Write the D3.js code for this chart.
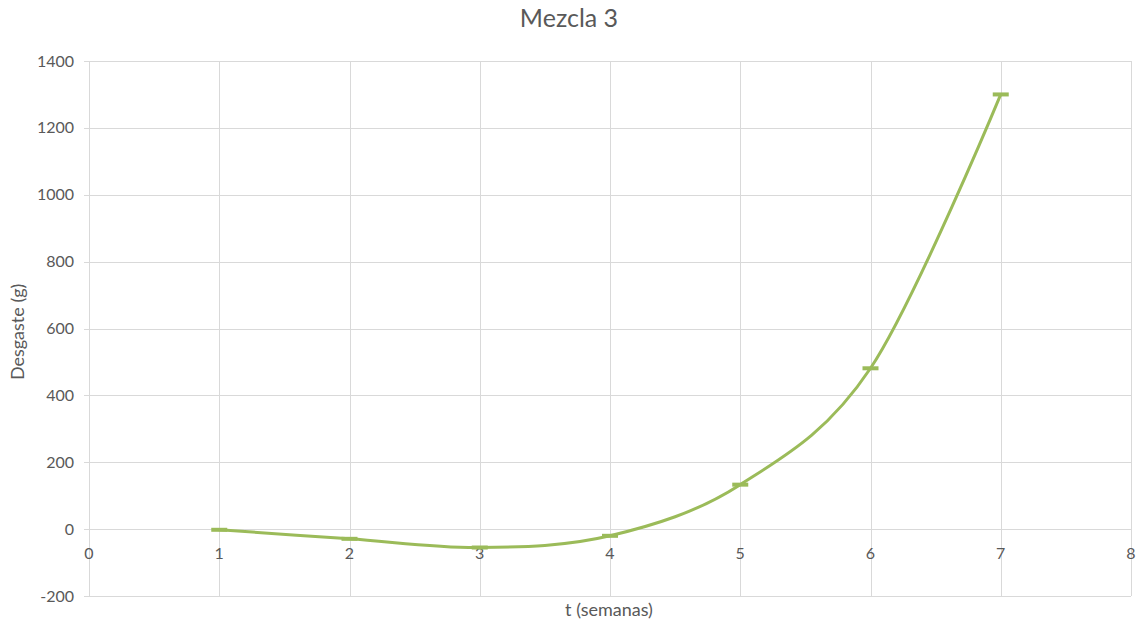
<!DOCTYPE html>
<html>
<head>
<meta charset="utf-8">
<script src="https://cdn.jsdelivr.net/npm/d3@7"></script>
<style>
  html, body { margin: 0; padding: 0; background: #fff; }
  svg { display: block; font-family: Lato, "Open Sans", sans-serif; }
</style>
</head>
<body>
<svg id="chart" width="1145" height="630"></svg>
<script>
// Weekly wear measurements for mix 3
const weeks = [1, 2, 3, 4, 5, 6, 7];
const wear = [-2, -29, -55, -20, 133, 481, 1300];
const xTicks = [0, 1, 2, 3, 4, 5, 6, 7, 8];
const yTicks = [-200, 0, 200, 400, 600, 800, 1000, 1200, 1400];
const titleText = "Mezcla 3";
const xTitle = "t (semanas)";
const yTitle = "Desgaste (g)";

const svg = d3.select("#chart");
const plot = { left: 89, right: 1131, top: 61, bottom: 596 };

const x = d3.scaleLinear().domain([0, 8]).range([plot.left, plot.right]);
const y = d3.scaleLinear().domain([-200, 1400]).range([plot.bottom, plot.top]);

const gridColor = "#d9d9d9";
const textColor = "#595959";
const seriesColor = "#9bbb59";

// Horizontal gridlines with short outward ticks on the left
svg.append("g")
  .selectAll("line")
  .data(yTicks)
  .join("line")
  .attr("x1", plot.left - 5)
  .attr("x2", plot.right)
  .attr("y1", d => Math.round(y(d)) + 0.5)
  .attr("y2", d => Math.round(y(d)) + 0.5)
  .attr("stroke", gridColor)
  .attr("stroke-width", 1);

// Vertical gridlines
svg.append("g")
  .selectAll("line")
  .data(xTicks)
  .join("line")
  .attr("x1", d => Math.round(x(d)) + 0.5)
  .attr("x2", d => Math.round(x(d)) + 0.5)
  .attr("y1", plot.top)
  .attr("y2", plot.bottom)
  .attr("stroke", gridColor)
  .attr("stroke-width", 1);

// Y tick labels
svg.append("g")
  .selectAll("text")
  .data(yTicks)
  .join("text")
  .attr("x", plot.left - 15)
  .attr("y", d => y(d))
  .attr("dy", "0.35em")
  .attr("text-anchor", "end")
  .attr("fill", textColor)
  .attr("font-size", 16)
  .text(d => d);

// X tick labels sit just below the zero line
svg.append("g")
  .selectAll("text")
  .data(xTicks)
  .join("text")
  .attr("x", d => x(d))
  .attr("y", y(0) + 30)
  .attr("text-anchor", "middle")
  .attr("fill", textColor)
  .attr("font-size", 16)
  .text(d => d);

// Smoothed series line
const pts = weeks.map((w, i) => [w, wear[i]]);
const line = d3.line()
  .x(d => x(d[0]))
  .y(d => y(d[1]))
  .curve(d3.curveCatmullRom.alpha(0));

svg.append("path")
  .datum(pts)
  .attr("d", line)
  .attr("fill", "none")
  .attr("stroke", seriesColor)
  .attr("stroke-width", 3)
  .attr("stroke-linecap", "round");

// Dash markers at each measurement
svg.append("g")
  .selectAll("rect")
  .data(pts)
  .join("rect")
  .attr("x", d => x(d[0]) - 8)
  .attr("y", d => y(d[1]) - 2)
  .attr("width", 16)
  .attr("height", 4)
  .attr("fill", seriesColor);

// Titles
svg.append("text")
  .attr("x", 569)
  .attr("y", 27)
  .attr("text-anchor", "middle")
  .attr("fill", textColor)
  .attr("font-size", 25)
  .text(titleText);

svg.append("text")
  .attr("x", 609)
  .attr("y", 616)
  .attr("text-anchor", "middle")
  .attr("fill", textColor)
  .attr("font-size", 18)
  .text(xTitle);

svg.append("text")
  .attr("transform", `translate(24, ${y(590)}) rotate(-90)`)
  .attr("text-anchor", "middle")
  .attr("fill", textColor)
  .attr("font-size", 18)
  .text(yTitle);
</script>
</body>
</html>
